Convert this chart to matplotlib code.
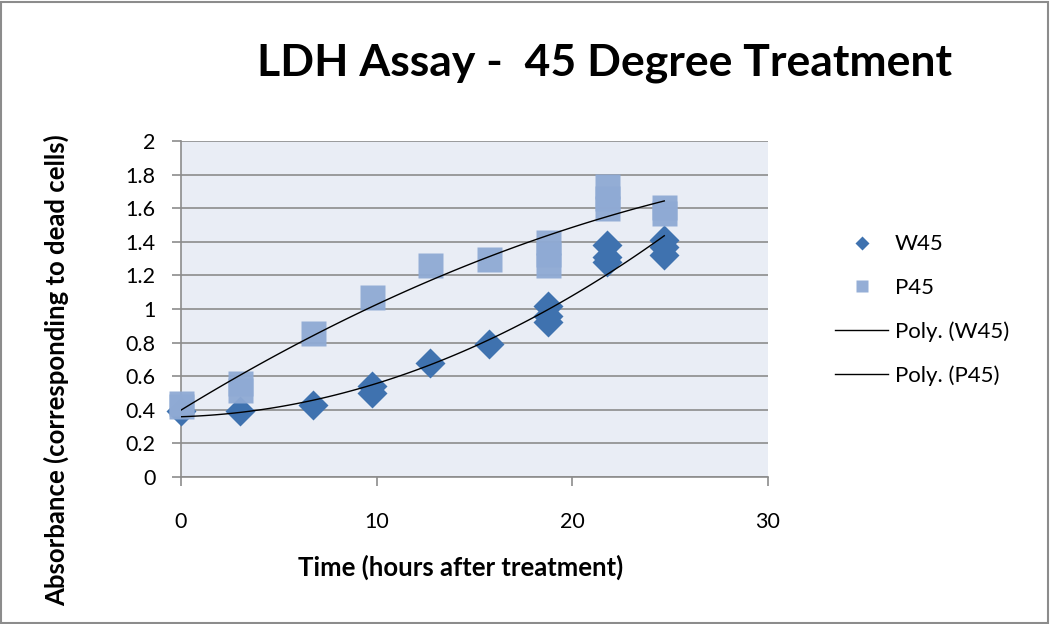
import numpy as np
from matplotlib import pyplot as plt
from matplotlib.patches import Rectangle

# data
w_x = [0, 3, 6.75, 9.75, 9.75, 12.75, 15.75, 18.75, 18.75, 18.75,
       21.75, 21.75, 21.75, 24.7, 24.7, 24.7]
w_y = [0.39, 0.39, 0.43, 0.54, 0.50, 0.68, 0.79, 1.02, 0.96, 0.92,
       1.38, 1.31, 1.28, 1.41, 1.37, 1.32]
p_x = [0, 0, 3, 3, 6.75, 9.75, 12.75, 15.75, 18.75, 18.75, 18.75,
       21.75, 21.75, 21.75, 24.7, 24.7]
p_y = [0.44, 0.42, 0.56, 0.52, 0.86, 1.07, 1.26, 1.30, 1.40, 1.33, 1.26,
       1.73, 1.66, 1.60, 1.61, 1.57]

x_ticks = [0, 10, 20, 30]
y_ticks = np.arange(0, 2.01, 0.2)
y_labels = ['0', '0.2', '0.4', '0.6', '0.8', '1', '1.2', '1.4', '1.6', '1.8', '2']

plt.rcParams['font.family'] = ['Lato', 'DejaVu Sans']

fig = plt.figure(figsize=(10.5, 6.24), dpi=100)
ax = fig.add_axes([0.1724, 0.2356, 0.7314 - 0.1724, 0.774 - 0.2356])
ax.set_facecolor('#E9EDF5')

ax.plot(w_x, w_y, 'D', ms=15, color='#3F72AF', mec='none', label='W45', zorder=3, clip_on=False)
ax.plot(p_x, p_y, 's', ms=18, color='#8FAAD4', mec='none', alpha=0.95, label='P45', zorder=3,
        clip_on=False)

# 2nd order trend lines like the spreadsheet ones
xs = np.linspace(0, 24.7, 100)
cw = np.polyfit(w_x, w_y, 2)
cp = np.polyfit(p_x, p_y, 2)
ax.plot(xs, np.polyval(cw, xs), color='black', lw=1, label='Poly. (W45)', zorder=4)
ax.plot(xs, np.polyval(cp, xs), color='black', lw=1, label='Poly. (P45)', zorder=4)

ax.set_xlim(0, 30)
ax.set_ylim(0, 2)
ax.set_xticks(x_ticks)
ax.set_yticks(y_ticks)
ax.set_yticklabels(y_labels)
ax.yaxis.grid(True, color='#8C8C8C', lw=1.2)
ax.set_axisbelow(True)
for s in ['top', 'right']:
    ax.spines[s].set_visible(False)
for s in ['left', 'bottom']:
    ax.spines[s].set_color('#8C8C8C')
    ax.spines[s].set_linewidth(1.2)
ax.tick_params(axis='both', colors='#8C8C8C', labelcolor='black', labelsize=15.5,
               length=6.5, width=1.2)
ax.tick_params(axis='x', pad=19)
ax.tick_params(axis='y', pad=12)

fig.text(461 / 1050, 1 - 567 / 624, 'Time (hours after treatment)', fontsize=18.5,
         fontweight='bold', ha='center', va='center')
fig.text(56 / 1050, 1 - 370 / 624, 'Absorbance (corresponding to dead cells)', fontsize=18.5,
         fontweight='bold', ha='center', va='center', rotation=90)
fig.text(0.576, 0.899, 'LDH Assay -  45 Degree Treatment', fontsize=32, fontweight='bold',
         ha='center', va='center')

fig.legend(*ax.get_legend_handles_labels(), loc='center left',
           bbox_to_anchor=(835 / 1050, 1 - 310 / 624), bbox_transform=fig.transFigure,
           frameon=False, fontsize=16, borderpad=0, borderaxespad=0,
           labelspacing=1.05, handlelength=2.4, handletextpad=0.3, markerscale=0.5)

fig.add_artist(Rectangle((0.001, 0.002), 0.997, 0.995, transform=fig.transFigure,
                         fill=False, edgecolor='#8C8C8C', lw=1.5))

fig.savefig('out.png', dpi=100)
